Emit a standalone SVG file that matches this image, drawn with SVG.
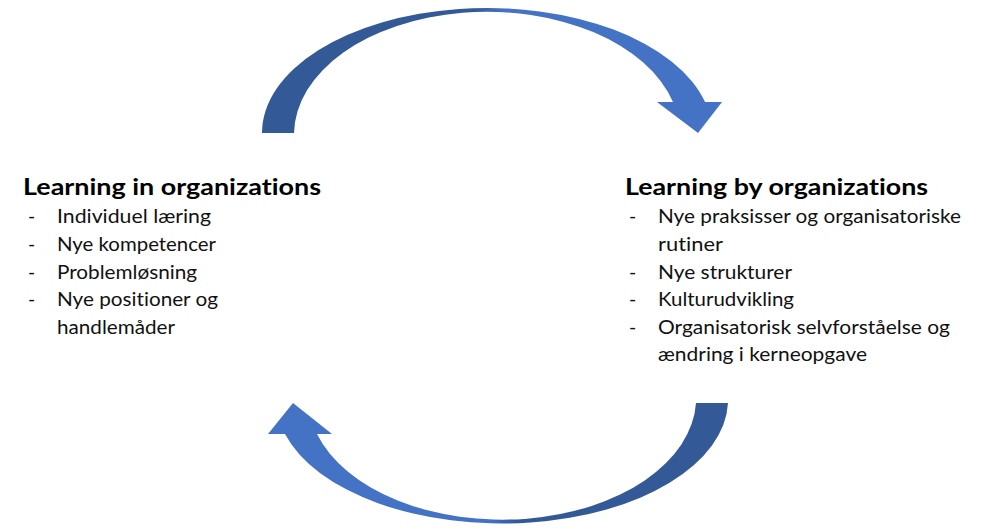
<svg xmlns="http://www.w3.org/2000/svg" width="982" height="529" viewBox="0 0 982 529">
<style>
text{font-variant-ligatures:none;font-feature-settings:"liga" 0,"clig" 0}
.h{font-family:Lato,"Liberation Sans",sans-serif;font-weight:bold;font-size:22.5px;fill:#000}
.t{font-family:Lato,"Liberation Sans",sans-serif;font-size:19.5px;fill:#111}
</style>
<defs>
<linearGradient id="gTop" gradientUnits="userSpaceOnUse" x1="262" y1="0" x2="722" y2="0">
<stop offset="0" stop-color="#335A97"/>
<stop offset="0.46" stop-color="#335A97"/>
<stop offset="0.52" stop-color="#4472C4"/>
<stop offset="1" stop-color="#4472C4"/>
</linearGradient>
<linearGradient id="gBot" gradientUnits="userSpaceOnUse" x1="268" y1="0" x2="728" y2="0">
<stop offset="0" stop-color="#4472C4"/>
<stop offset="0.48" stop-color="#4472C4"/>
<stop offset="0.54" stop-color="#335A97"/>
<stop offset="1" stop-color="#335A97"/>
</linearGradient>
</defs>
<g id="connectors">
<path id="arrowTop" fill="url(#gTop)" d="M262,133 A225 125 0 0 1 705,102 L722,102 L698,133 L657,102 L673,102 A193 123 0 0 0 294,133 Z"/>
<path id="arrowBottom" fill="url(#gBot)" d="M728,403 A226 124 0 0 1 285,434 L268,434 L293,403 L332,434 L317,434 A194 122 0 0 0 696,403 Z"/>
</g>
<g id="nodeLeft">
<text class="h" x="23" y="195" textLength="298" lengthAdjust="spacingAndGlyphs">Learning in organizations</text>
<text class="t" x="28" y="223">-</text><text class="t" x="57" y="223" textLength="154" lengthAdjust="spacingAndGlyphs">Individuel læring</text>
<text class="t" x="28" y="251">-</text><text class="t" x="57" y="251" textLength="159" lengthAdjust="spacingAndGlyphs">Nye kompetencer</text>
<text class="t" x="28" y="279">-</text><text class="t" x="57" y="279" textLength="140" lengthAdjust="spacingAndGlyphs">Problemløsning</text>
<text class="t" x="28" y="306">-</text><text class="t" x="57" y="306" textLength="161" lengthAdjust="spacingAndGlyphs">Nye positioner og</text>
<text class="t" x="57" y="334" textLength="118" lengthAdjust="spacingAndGlyphs">handlemåder</text>
</g>
<g id="nodeRight">
<text class="h" x="625" y="195" textLength="303" lengthAdjust="spacingAndGlyphs">Learning by organizations</text>
<text class="t" x="629" y="223">-</text><text class="t" x="658" y="223" textLength="303" lengthAdjust="spacingAndGlyphs">Nye praksisser og organisatoriske</text>
<text class="t" x="658" y="251" textLength="65" lengthAdjust="spacingAndGlyphs">rutiner</text>
<text class="t" x="629" y="279">-</text><text class="t" x="658" y="279" textLength="134" lengthAdjust="spacingAndGlyphs">Nye strukturer</text>
<text class="t" x="629" y="306">-</text><text class="t" x="658" y="306" textLength="136" lengthAdjust="spacingAndGlyphs">Kulturudvikling</text>
<text class="t" x="629" y="334">-</text><text class="t" x="658" y="334" textLength="292" lengthAdjust="spacingAndGlyphs">Organisatorisk selvforståelse og</text>
<text class="t" x="658" y="361" textLength="209" lengthAdjust="spacingAndGlyphs">ændring i kerneopgave</text>
</g>
</svg>
